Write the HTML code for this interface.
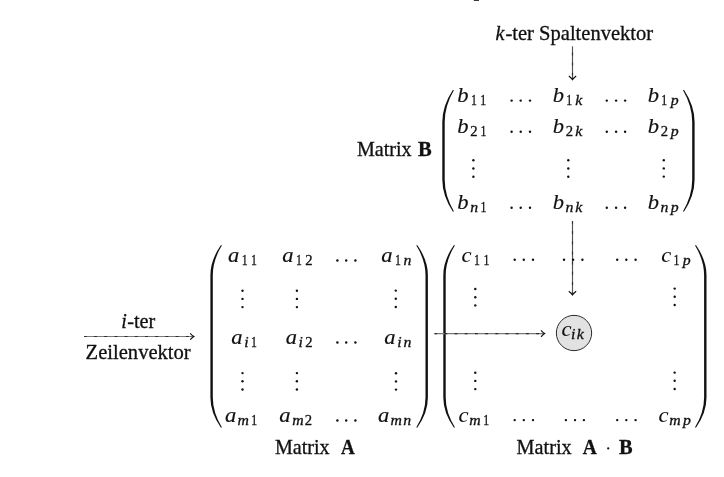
<!DOCTYPE html>
<html><head><meta charset="utf-8"><style>
html,body{margin:0;padding:0;background:#fff;}
svg{display:block;will-change:transform;}
text{font-family:"Liberation Serif",serif;fill:#111;stroke:#111;stroke-width:0.3;}
.i{font-style:italic;}
.b{font-weight:bold;}
</style></head><body>
<svg width="724" height="477" viewBox="0 0 724 477" fill="#111">
<rect x="473.8" y="0" width="5.2" height="1" fill="#3a3a3a"/>
<text class="i" x="495.52" y="40.00" font-size="20">k</text>
<text class="r" transform="translate(505.44 40.00) scale(1.0275 1)" font-size="20">-ter Spaltenvektor</text>
<line x1="572.50" y1="46.30" x2="572.50" y2="79.00" stroke="#555" stroke-width="1.15"/>
<line x1="572.50" y1="46.30" x2="572.50" y2="79.00" stroke="#2e2e2e" stroke-width="1.15" stroke-dasharray="3 7.2" stroke-dashoffset="4.10"/>
<path d="M568.8,76.0 Q571.6,78.10000000000001 572.5,79.7 Q573.4,78.10000000000001 576.2,76.0" fill="none" stroke="#111" stroke-width="1.1"/>
<text class="r" transform="translate(356.92 155.80) scale(1.0053 1)" font-size="20">Matrix</text>
<text class="b" transform="translate(417.96 156.00) scale(1.0280 1)" font-size="20">B</text>
<text style="stroke-width:0.15" class="i" transform="translate(457.16 101.90) scale(1.13 1)" font-size="20">b</text>
<text class="r" transform="translate(471.07 104.60) scale(0.8 1)" font-size="14.7">1</text>
<text class="r" transform="translate(480.17 104.60) scale(0.8 1)" font-size="14.7">1</text>
<text style="stroke-width:0.15" class="i" transform="translate(552.76 101.90) scale(1.13 1)" font-size="20">b</text>
<text class="r" transform="translate(566.37 104.60) scale(0.8 1)" font-size="14.7">1</text>
<text class="i" transform="translate(575.24 104.60) scale(1.13 1)" font-size="14">k</text>
<text style="stroke-width:0.15" class="i" transform="translate(647.86 101.90) scale(1.13 1)" font-size="20">b</text>
<text class="r" transform="translate(661.17 104.60) scale(0.8 1)" font-size="14.7">1</text>
<text class="i" transform="translate(670.73 104.60) scale(1.13 1)" font-size="14">p</text>
<text style="stroke-width:0.15" class="i" transform="translate(457.16 133.00) scale(1.13 1)" font-size="20">b</text>
<text class="r" x="470.35" y="135.70" font-size="14.7">2</text>
<text class="r" transform="translate(480.47 135.70) scale(0.8 1)" font-size="14.7">1</text>
<text style="stroke-width:0.15" class="i" transform="translate(552.76 133.00) scale(1.13 1)" font-size="20">b</text>
<text class="r" x="565.65" y="135.70" font-size="14.7">2</text>
<text class="i" transform="translate(575.24 135.70) scale(1.13 1)" font-size="14">k</text>
<text style="stroke-width:0.15" class="i" transform="translate(647.76 133.00) scale(1.13 1)" font-size="20">b</text>
<text class="r" x="660.65" y="135.70" font-size="14.7">2</text>
<text class="i" transform="translate(670.83 135.70) scale(1.13 1)" font-size="14">p</text>
<text style="stroke-width:0.15" class="i" transform="translate(457.16 209.20) scale(1.13 1)" font-size="20">b</text>
<text class="i" transform="translate(470.14 211.90) scale(1.13 1)" font-size="14">n</text>
<text class="r" transform="translate(480.47 211.90) scale(0.8 1)" font-size="14.7">1</text>
<text style="stroke-width:0.15" class="i" transform="translate(552.76 209.20) scale(1.13 1)" font-size="20">b</text>
<text class="i" transform="translate(565.44 211.90) scale(1.13 1)" font-size="14">n</text>
<text class="i" transform="translate(575.24 211.90) scale(1.13 1)" font-size="14">k</text>
<text style="stroke-width:0.15" class="i" transform="translate(647.76 209.20) scale(1.13 1)" font-size="20">b</text>
<text class="i" transform="translate(660.44 211.90) scale(1.13 1)" font-size="14">n</text>
<text class="i" transform="translate(670.83 211.90) scale(1.13 1)" font-size="14">p</text>
<circle cx="511.60" cy="100.60" r="1.2"/>
<circle cx="520.70" cy="100.60" r="1.2"/>
<circle cx="530.00" cy="100.60" r="1.2"/>
<circle cx="606.80" cy="100.60" r="1.2"/>
<circle cx="616.10" cy="100.60" r="1.2"/>
<circle cx="625.10" cy="100.60" r="1.2"/>
<circle cx="511.60" cy="131.70" r="1.2"/>
<circle cx="520.70" cy="131.70" r="1.2"/>
<circle cx="530.00" cy="131.70" r="1.2"/>
<circle cx="606.80" cy="131.70" r="1.2"/>
<circle cx="616.10" cy="131.70" r="1.2"/>
<circle cx="625.10" cy="131.70" r="1.2"/>
<circle cx="511.60" cy="207.70" r="1.2"/>
<circle cx="520.70" cy="207.70" r="1.2"/>
<circle cx="530.00" cy="207.70" r="1.2"/>
<circle cx="606.80" cy="207.70" r="1.2"/>
<circle cx="616.10" cy="207.70" r="1.2"/>
<circle cx="625.10" cy="207.70" r="1.2"/>
<circle cx="473.40" cy="160.30" r="1.2"/>
<circle cx="473.40" cy="168.50" r="1.2"/>
<circle cx="473.40" cy="176.70" r="1.2"/>
<circle cx="568.30" cy="160.30" r="1.2"/>
<circle cx="568.30" cy="168.50" r="1.2"/>
<circle cx="568.30" cy="176.70" r="1.2"/>
<circle cx="663.80" cy="160.20" r="1.2"/>
<circle cx="663.80" cy="168.40" r="1.2"/>
<circle cx="663.80" cy="176.60" r="1.2"/>
<path d="M452.80,90.00 Q442.30,106.00 442.30,122.00 L442.30,179.60 Q442.30,195.60 452.80,211.60 L454.00,211.60 Q444.70,195.60 444.70,179.60 L444.70,122.00 Q444.70,106.00 454.00,90.00 Z"/>
<path d="M684.10,90.00 Q694.60,106.00 694.60,122.00 L694.60,179.60 Q694.60,195.60 684.10,211.60 L682.90,211.60 Q692.20,195.60 692.20,179.60 L692.20,122.00 Q692.20,106.00 682.90,90.00 Z"/>
<line x1="572.50" y1="221.20" x2="572.50" y2="294.30" stroke="#555" stroke-width="1.15"/>
<line x1="572.50" y1="221.20" x2="572.50" y2="294.30" stroke="#2e2e2e" stroke-width="1.15" stroke-dasharray="3 7.2" stroke-dashoffset="0.40"/>
<path d="M568.8,291.3 Q571.6,293.4 572.5,295.0 Q573.4,293.4 576.2,291.3" fill="none" stroke="#111" stroke-width="1.1"/>
<text style="stroke-width:0.15" class="i" transform="translate(227.93 262.10) scale(1.13 1)" font-size="20">a</text>
<text class="r" transform="translate(241.67 264.80) scale(0.8 1)" font-size="14.7">1</text>
<text class="r" transform="translate(251.04 264.80) scale(0.8 1)" font-size="14.7">1</text>
<text style="stroke-width:0.15" class="i" transform="translate(282.33 262.10) scale(1.13 1)" font-size="20">a</text>
<text class="r" transform="translate(296.07 264.80) scale(0.8 1)" font-size="14.7">1</text>
<text class="r" x="305.25" y="264.80" font-size="14.7">2</text>
<text style="stroke-width:0.15" class="i" transform="translate(381.23 262.10) scale(1.13 1)" font-size="20">a</text>
<text class="r" transform="translate(394.97 264.80) scale(0.8 1)" font-size="14.7">1</text>
<text class="i" transform="translate(403.44 264.80) scale(1.13 1)" font-size="14">n</text>
<text style="stroke-width:0.15" class="i" transform="translate(231.23 344.10) scale(1.13 1)" font-size="20">a</text>
<text class="i" transform="translate(244.22 346.80) scale(1.13 1)" font-size="14">i</text>
<text class="r" transform="translate(250.97 346.80) scale(0.8 1)" font-size="14.7">1</text>
<text style="stroke-width:0.15" class="i" transform="translate(285.73 344.10) scale(1.13 1)" font-size="20">a</text>
<text class="i" transform="translate(298.52 346.80) scale(1.13 1)" font-size="14">i</text>
<text class="r" x="305.15" y="346.80" font-size="14.7">2</text>
<text style="stroke-width:0.15" class="i" transform="translate(384.33 344.10) scale(1.13 1)" font-size="20">a</text>
<text class="i" transform="translate(397.32 346.80) scale(1.13 1)" font-size="14">i</text>
<text class="i" transform="translate(403.44 346.80) scale(1.13 1)" font-size="14">n</text>
<text style="stroke-width:0.15" class="i" transform="translate(224.93 422.10) scale(1.13 1)" font-size="20">a</text>
<text class="i" transform="translate(237.43 424.80) scale(1.13 1)" font-size="14">m</text>
<text class="r" transform="translate(251.37 424.80) scale(0.8 1)" font-size="14.7">1</text>
<text style="stroke-width:0.15" class="i" transform="translate(279.33 422.10) scale(1.13 1)" font-size="20">a</text>
<text class="i" transform="translate(292.13 424.80) scale(1.13 1)" font-size="14">m</text>
<text class="r" x="304.85" y="424.80" font-size="14.7">2</text>
<text style="stroke-width:0.15" class="i" transform="translate(377.93 422.10) scale(1.13 1)" font-size="20">a</text>
<text class="i" transform="translate(390.43 424.80) scale(1.13 1)" font-size="14">m</text>
<text class="i" transform="translate(403.14 424.80) scale(1.13 1)" font-size="14">n</text>
<circle cx="337.40" cy="260.50" r="1.2"/>
<circle cx="346.20" cy="260.50" r="1.2"/>
<circle cx="355.40" cy="260.50" r="1.2"/>
<circle cx="337.40" cy="342.50" r="1.2"/>
<circle cx="346.20" cy="342.50" r="1.2"/>
<circle cx="355.40" cy="342.50" r="1.2"/>
<circle cx="337.40" cy="420.50" r="1.2"/>
<circle cx="346.20" cy="420.50" r="1.2"/>
<circle cx="355.40" cy="420.50" r="1.2"/>
<circle cx="242.50" cy="290.70" r="1.2"/>
<circle cx="242.50" cy="298.90" r="1.2"/>
<circle cx="242.50" cy="307.10" r="1.2"/>
<circle cx="296.90" cy="290.70" r="1.2"/>
<circle cx="296.90" cy="298.90" r="1.2"/>
<circle cx="296.90" cy="307.10" r="1.2"/>
<circle cx="395.80" cy="290.60" r="1.2"/>
<circle cx="395.80" cy="298.80" r="1.2"/>
<circle cx="395.80" cy="307.00" r="1.2"/>
<circle cx="242.50" cy="373.10" r="1.2"/>
<circle cx="242.50" cy="381.30" r="1.2"/>
<circle cx="242.50" cy="389.50" r="1.2"/>
<circle cx="296.90" cy="373.10" r="1.2"/>
<circle cx="296.90" cy="381.30" r="1.2"/>
<circle cx="296.90" cy="389.50" r="1.2"/>
<circle cx="396.00" cy="373.20" r="1.2"/>
<circle cx="396.00" cy="381.40" r="1.2"/>
<circle cx="396.00" cy="389.60" r="1.2"/>
<path d="M220.80,245.30 Q210.40,260.30 210.40,275.30 L210.40,397.50 Q210.40,412.50 220.80,427.50 L222.00,427.50 Q212.80,412.50 212.80,397.50 L212.80,275.30 Q212.80,260.30 222.00,245.30 Z"/>
<path d="M417.40,245.30 Q427.90,260.30 427.90,275.30 L427.90,397.50 Q427.90,412.50 417.40,427.50 L416.20,427.50 Q425.50,412.50 425.50,397.50 L425.50,275.30 Q425.50,260.30 416.20,245.30 Z"/>
<text class="r" transform="translate(274.92 453.70) scale(1.0053 1)" font-size="20">Matrix</text>
<text class="b" transform="translate(340.91 453.70) scale(0.9502 1)" font-size="20">A</text>
<text style="stroke-width:0.05" class="i" transform="translate(461.40 262.10) scale(1.13 1)" font-size="20">c</text>
<text class="r" transform="translate(474.07 264.80) scale(0.8 1)" font-size="14.7">1</text>
<text class="r" transform="translate(483.47 264.80) scale(0.8 1)" font-size="14.7">1</text>
<text style="stroke-width:0.05" class="i" transform="translate(661.20 262.10) scale(1.13 1)" font-size="20">c</text>
<text class="r" transform="translate(673.57 264.80) scale(0.8 1)" font-size="14.7">1</text>
<text class="i" transform="translate(682.73 264.80) scale(1.13 1)" font-size="14">p</text>
<text style="stroke-width:0.05" class="i" transform="translate(458.40 422.10) scale(1.13 1)" font-size="20">c</text>
<text class="i" transform="translate(469.33 424.80) scale(1.13 1)" font-size="14">m</text>
<text class="r" transform="translate(483.27 424.80) scale(0.8 1)" font-size="14.7">1</text>
<text style="stroke-width:0.05" class="i" transform="translate(658.40 422.10) scale(1.13 1)" font-size="20">c</text>
<text class="i" transform="translate(669.33 424.80) scale(1.13 1)" font-size="14">m</text>
<text class="i" transform="translate(683.03 424.80) scale(1.13 1)" font-size="14">p</text>
<circle cx="514.70" cy="259.70" r="1.2"/>
<circle cx="523.80" cy="259.70" r="1.2"/>
<circle cx="533.00" cy="259.70" r="1.2"/>
<circle cx="564.00" cy="259.70" r="1.2"/>
<circle cx="573.10" cy="259.70" r="1.2"/>
<circle cx="582.40" cy="259.70" r="1.2"/>
<circle cx="617.20" cy="259.70" r="1.2"/>
<circle cx="626.30" cy="259.70" r="1.2"/>
<circle cx="635.60" cy="259.70" r="1.2"/>
<circle cx="514.70" cy="420.10" r="1.2"/>
<circle cx="523.80" cy="420.10" r="1.2"/>
<circle cx="533.00" cy="420.10" r="1.2"/>
<circle cx="565.90" cy="420.10" r="1.2"/>
<circle cx="575.00" cy="420.10" r="1.2"/>
<circle cx="583.90" cy="420.10" r="1.2"/>
<circle cx="617.20" cy="420.10" r="1.2"/>
<circle cx="626.30" cy="420.10" r="1.2"/>
<circle cx="635.60" cy="420.10" r="1.2"/>
<circle cx="475.30" cy="289.00" r="1.2"/>
<circle cx="475.30" cy="297.20" r="1.2"/>
<circle cx="475.30" cy="305.40" r="1.2"/>
<circle cx="674.70" cy="288.60" r="1.2"/>
<circle cx="674.70" cy="296.80" r="1.2"/>
<circle cx="674.70" cy="305.00" r="1.2"/>
<circle cx="475.30" cy="372.70" r="1.2"/>
<circle cx="475.30" cy="380.90" r="1.2"/>
<circle cx="475.30" cy="389.10" r="1.2"/>
<circle cx="674.65" cy="372.60" r="1.2"/>
<circle cx="674.65" cy="380.80" r="1.2"/>
<circle cx="674.65" cy="389.00" r="1.2"/>
<path d="M453.80,245.30 Q443.30,260.30 443.30,275.30 L443.30,397.50 Q443.30,412.50 453.80,427.50 L455.00,427.50 Q445.70,412.50 445.70,397.50 L445.70,275.30 Q445.70,260.30 455.00,245.30 Z"/>
<path d="M696.10,245.30 Q706.50,260.30 706.50,275.30 L706.50,397.50 Q706.50,412.50 696.10,427.50 L694.90,427.50 Q704.10,412.50 704.10,397.50 L704.10,275.30 Q704.10,260.30 694.90,245.30 Z"/>
<line x1="434.50" y1="333.60" x2="544.00" y2="333.60" stroke="#7a7a7a" stroke-width="1.15"/>
<line x1="434.50" y1="333.60" x2="544.00" y2="333.60" stroke="#2e2e2e" stroke-width="1.15" stroke-dasharray="3 7.2" stroke-dashoffset="0.40"/>
<path d="M541.0,330.40000000000003 Q543.1,332.70000000000005 544.7,333.6 Q543.1,334.5 541.0,336.8" fill="none" stroke="#111" stroke-width="1.1"/>
<circle cx="574.0" cy="333.0" r="17.65" fill="#e2e2e2" stroke="#2a2a2a" stroke-width="1"/>
<text style="stroke-width:0.05" class="i" transform="translate(561.40 335.50) scale(1.13 1)" font-size="20">c</text>
<text class="i" transform="translate(571.12 338.70) scale(1.13 1)" font-size="14">i</text>
<text class="i" transform="translate(576.84 338.70) scale(1.13 1)" font-size="14">k</text>
<text class="r" transform="translate(516.62 453.70) scale(1.0128 1)" font-size="20">Matrix</text>
<text class="b" transform="translate(582.71 453.70) scale(0.9715 1)" font-size="20">A</text>
<circle cx="608.2" cy="448.4" r="1.1"/>
<text class="b" transform="translate(618.96 453.50) scale(1.0200 1)" font-size="20">B</text>
<text class="i" x="121.29" y="328.30" font-size="20">i</text>
<text class="r" transform="translate(127.15 328.30) scale(1.0136 1)" font-size="20">-ter</text>
<line x1="84.10" y1="336.50" x2="193.20" y2="336.50" stroke="#7a7a7a" stroke-width="1.15"/>
<line x1="84.10" y1="336.50" x2="193.20" y2="336.50" stroke="#2e2e2e" stroke-width="1.15" stroke-dasharray="3 7.2" stroke-dashoffset="0.30"/>
<path d="M190.20000000000002,333.3 Q192.3,335.6 193.9,336.5 Q192.3,337.4 190.20000000000002,339.7" fill="none" stroke="#111" stroke-width="1.1"/>
<text class="r" transform="translate(85.61 359.00) scale(1.0292 1)" font-size="20">Zeilenvektor</text>
</svg></body></html>
